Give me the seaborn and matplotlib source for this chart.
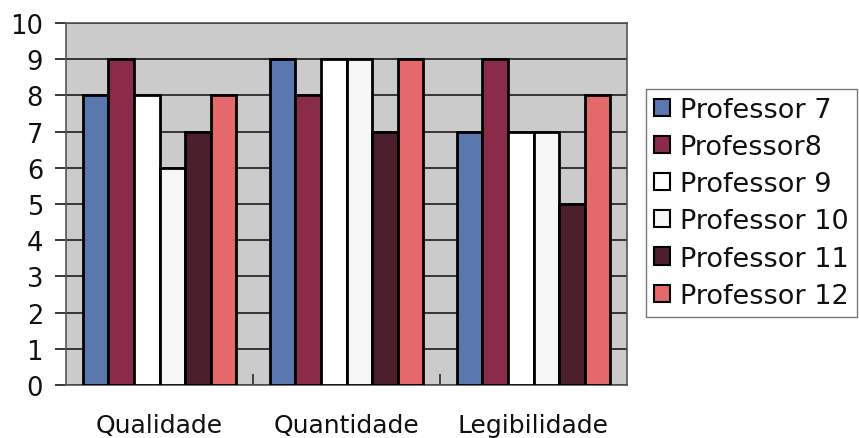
import matplotlib
matplotlib.use("Agg")
import matplotlib.pyplot as plt
import seaborn as sns
import pandas as pd

categories = ["Qualidade", "Quantidade", "Legibilidade"]
professors = ["Professor 7", "Professor8", "Professor 9", "Professor 10", "Professor 11", "Professor 12"]
prof7 = [8, 9, 7]
prof8 = [9, 8, 9]
prof9 = [8, 9, 7]
prof10 = [6, 9, 7]
prof11 = [7, 7, 5]
prof12 = [8, 9, 8]
yticks = list(range(0, 11))

colors = ["#5b78ae", "#8b2b4a", "#ffffff", "#f6f6f6", "#4b1f2c", "#e5686b"]

series = [prof7, prof8, prof9, prof10, prof11, prof12]
df = pd.DataFrame([
    {"Critério": c, "Professor": p, "Nota": v}
    for p, vals in zip(professors, series)
    for c, v in zip(categories, vals)
])

sns.set_theme(style="white")
plt.rcParams["font.family"] = ["DejaVu Sans"]

fig = plt.figure(figsize=(8.59, 4.39), dpi=100)
ax = fig.add_axes([66 / 859, 1 - 386 / 439, (627 - 66) / 859, (386 - 24) / 439])

sns.barplot(data=df, x="Critério", y="Nota", hue="Professor",
            order=categories, hue_order=professors, palette=colors,
            width=0.82, edgecolor="black", linewidth=2, saturation=1,
            ax=ax, zorder=3)

ax.set_facecolor("#cbcbcb")
ax.set_ylim(0, 10)
ax.set_xlim(-0.5, 2.5)
ax.set_yticks(yticks)
ax.set_yticklabels([str(t) for t in yticks], fontsize=18.5, color="#111111")
ax.yaxis.grid(True, color="#2a2a2a", linewidth=1.3, zorder=0)
ax.set_axisbelow(True)
ax.tick_params(axis="y", length=8, width=1.3, color="#2a2a2a", pad=8.5, left=True)
ax.tick_params(axis="x", length=0, pad=20, labelsize=18, labelcolor="#111111")
ax.set_xticks([0.5, 1.5], minor=True)
ax.tick_params(axis="x", which="minor", direction="in", length=8, width=1.2,
               color="#2a2a2a", bottom=True)
ax.set_xlabel("")
ax.set_ylabel("")
for side, sp in ax.spines.items():
    sp.set_color("#555555")
    sp.set_linewidth(1.2)

handles, labels = ax.get_legend_handles_labels()
leg = ax.legend(handles, labels, loc="upper left", bbox_to_anchor=(646 / 859, 1 - 90 / 439),
                bbox_transform=fig.transFigure, fontsize=19.5, frameon=True, fancybox=False,
                edgecolor="#555555", handlelength=0.6, handleheight=0.6, handletextpad=0.35,
                labelspacing=0.41, borderpad=0.3, borderaxespad=0)
for t in leg.get_texts():
    t.set_color("#111111")
for h in leg.legend_handles:
    h.set_linewidth(1.5)
    h.set_edgecolor("black")

fig.savefig("out.png", dpi=100, facecolor="white")
